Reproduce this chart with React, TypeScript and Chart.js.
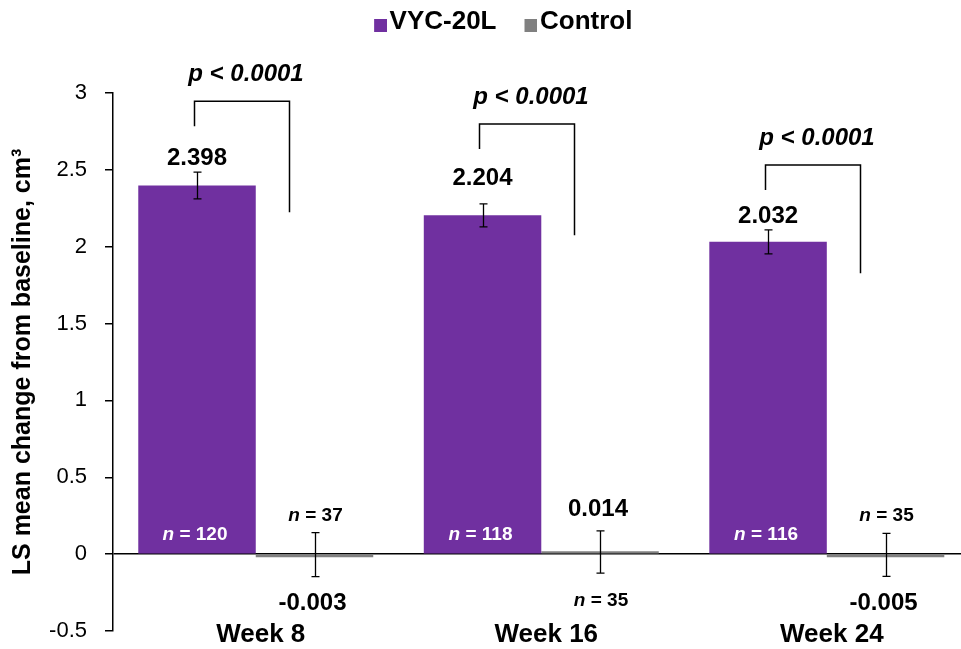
import React, { useEffect, useRef } from 'react';
import { Chart, registerables } from 'chart.js';

Chart.register(...registerables);

// ---- data ----
const categories = ['Week 8', 'Week 16', 'Week 24'];
const seriesNames = ['VYC-20L', 'Control'];
const vycValues = [2.398, 2.204, 2.032];
const vycErrors = [0.087, 0.075, 0.078];
const controlValues = [-0.003, 0.014, -0.005];
const controlErrors = [0.143, 0.137, 0.14];
const vycN = [120, 118, 116];
const controlN = [37, 35, 35];
const pValueLabels = ['p < 0.0001', 'p < 0.0001', 'p < 0.0001'];
const yAxisTitle = 'LS mean change from baseline, cm\u00B3';

// ---- annotation placement (data units) ----
const bracketTop = [2.947, 2.798, 2.531];
const bracketRightEnd = [2.225, 2.075, 1.828];
const vycLabelCenter = [2.573, 2.443, 2.196];
const controlValueAbove = [false, true, false];

const FONT = '"Liberation Sans", Arial, Helvetica, sans-serif';
const PURPLE = '#7030A0';
const GRAY = '#808080';

Chart.defaults.font.family = FONT;

function drawNLabel(ctx: CanvasRenderingContext2D, n: number, cx: number, cy: number, color: string) {
  const italic = `italic bold 19px ${FONT}`;
  const bold = `bold 19px ${FONT}`;
  ctx.font = italic;
  const w1 = ctx.measureText('n').width;
  ctx.font = bold;
  const rest = ` = ${n}`;
  const w2 = ctx.measureText(rest).width;
  const start = cx - (w1 + w2) / 2;
  ctx.fillStyle = color;
  ctx.textBaseline = 'middle';
  ctx.textAlign = 'left';
  ctx.font = italic;
  ctx.fillText('n', start, cy);
  ctx.font = bold;
  ctx.fillText(rest, start + w1, cy);
}

const annotationPlugin = {
  id: 'annotations',
  afterDatasetsDraw(chart: any) {
    const { ctx } = chart;
    const ys = chart.scales.y;
    const xs = chart.scales.x;
    const z = ys.getPixelForValue(0);
    ctx.save();
    ctx.strokeStyle = '#000';
    ctx.lineWidth = 1.3;
    // error bars
    const sets = [
      { vals: vycValues, errs: vycErrors },
      { vals: controlValues, errs: controlErrors },
    ];
    sets.forEach((s, di) => {
      const meta = chart.getDatasetMeta(di);
      meta.data.forEach((bar: any, i: number) => {
        const bx = Math.round(bar.x) + 0.5;
        const t = ys.getPixelForValue(s.vals[i] + s.errs[i]);
        const b = ys.getPixelForValue(s.vals[i] - s.errs[i]);
        ctx.beginPath();
        ctx.moveTo(bx, t);
        ctx.lineTo(bx, b);
        ctx.moveTo(bx - 4, t);
        ctx.lineTo(bx + 4, t);
        ctx.moveTo(bx - 4, b);
        ctx.lineTo(bx + 4, b);
        ctx.stroke();
      });
    });

    const vycMeta = chart.getDatasetMeta(0);
    const ctlMeta = chart.getDatasetMeta(1);

    // value labels
    ctx.textAlign = 'center';
    ctx.textBaseline = 'middle';
    ctx.fillStyle = '#000';
    ctx.font = `bold 24px ${FONT}`;
    vycValues.forEach((v, i) => {
      const bar = vycMeta.data[i];
      ctx.fillText(v.toFixed(3), bar.x, ys.getPixelForValue(vycLabelCenter[i]));
    });
    controlValues.forEach((v, i) => {
      const bar = ctlMeta.data[i];
      const above = controlValueAbove[i];
      ctx.font = `bold 24px ${FONT}`;
      ctx.fillStyle = '#000';
      ctx.textAlign = 'center';
      ctx.fillText(v.toFixed(3), bar.x - 2, above ? z - 45 : z + 49.5);
      drawNLabel(ctx, controlN[i], bar.x + 1, above ? z + 46.5 : z - 38, '#000');
    });
    vycN.forEach((n, i) => {
      const bar = vycMeta.data[i];
      drawNLabel(ctx, n, bar.x - 2, z - 19, '#fff');
    });

    // significance brackets
    ctx.strokeStyle = '#000';
    ctx.lineWidth = 1.5;
    categories.forEach((_, i) => {
      const c = xs.getPixelForValue(i);
      const left = Math.round(c - 62) + 0.5;
      const right = Math.round(c + 33) + 0.5;
      const top = ys.getPixelForValue(bracketTop[i]);
      const rEnd = ys.getPixelForValue(bracketRightEnd[i]);
      ctx.beginPath();
      ctx.moveTo(left, top + 25);
      ctx.lineTo(left, top);
      ctx.lineTo(right, top);
      ctx.lineTo(right, rEnd);
      ctx.stroke();
      ctx.font = `italic bold 24px ${FONT}`;
      ctx.fillStyle = '#000';
      ctx.textAlign = 'center';
      ctx.textBaseline = 'middle';
      ctx.fillText(pValueLabels[i], (left + right) / 2 + 4, top - 27);
    });
    ctx.restore();
  },
};

const legendShiftPlugin = {
  id: 'legendShift',
  afterLayout(chart: any) {
    const l = chart.legend;
    if (l) {
      l.left += 12;
      l.right += 12;
    }
  },
};

function makeSwatch(color: string) {
  const c = document.createElement('canvas');
  c.width = 45;
  c.height = 26;
  const g = c.getContext('2d')!;
  g.fillStyle = color;
  g.fillRect(32, 10, 13, 13);
  return c;
}

export default function App() {
  const ref = useRef<HTMLCanvasElement>(null);

  useEffect(() => {
    document.body.style.margin = '0';
    const swatches = [makeSwatch(PURPLE), makeSwatch(GRAY)];
    const chart = new Chart(ref.current!, {
      type: 'bar',
      data: {
        datasets: [
          {
            label: seriesNames[0],
            data: vycValues.map((v, i) => ({ x: i, y: v })),
            backgroundColor: PURPLE,
            borderWidth: 0,
          },
          {
            label: seriesNames[1],
            data: controlValues.map((v, i) => ({ x: i, y: v })),
            backgroundColor: GRAY,
            borderWidth: 0,
            minBarLength: 3,
          },
        ],
      },
      options: {
        animation: false,
        responsive: true,
        maintainAspectRatio: false,
        categoryPercentage: 0.823,
        barPercentage: 1,
        layout: { padding: { top: 2.5, left: 0, right: 0, bottom: 0 } },
        plugins: {
          tooltip: { enabled: false },
          title: { display: false },
          subtitle: {
            display: true,
            text: '',
            position: 'top',
            weight: 500,
            font: { size: 10, lineHeight: 1 },
            padding: { top: 0, bottom: 38 },
          },
          legend: {
            display: true,
            position: 'top',
            align: 'center',
            labels: {
              usePointStyle: true,
              pointStyleWidth: 24,
              padding: 6.5,
              color: '#000',
              font: { size: 26, weight: 'bold', family: FONT },
              generateLabels: (ch: any) => {
                const items = (Chart.defaults.plugins.legend.labels as any).generateLabels(ch);
                items.forEach((it: any, i: number) => {
                  it.pointStyle = swatches[i];
                });
                return items;
              },
            },
          },
        } as any,
        scales: {
          x: {
            type: 'linear',
            min: -0.5,
            max: 2.47,
            offset: false,
            grid: { display: false },
            border: { display: false },
            afterBuildTicks: (s: any) => {
              s.ticks = categories.map((_, i) => ({ value: i }));
            },
            afterFit: (s: any) => {
              s.height = 18;
              s.paddingLeft = 0;
              s.paddingRight = 0;
            },
            ticks: {
              autoSkip: false,
              maxRotation: 0,
              minRotation: 0,
              mirror: true,
              padding: -17,
              labelOffset: 5,
              color: '#000',
              font: { size: 26, weight: 'bold', lineHeight: 1, family: FONT },
              callback: (_v: any, index: number) => categories[index],
            },
          },
          y: {
            type: 'linear',
            min: -0.5,
            max: 3,
            afterFit: (s: any) => {
              s.width = 113;
              s.paddingTop = 0;
              s.paddingBottom = 0;
            },
            ticks: {
              stepSize: 0.5,
              padding: 18,
              color: '#000',
              font: { size: 22, family: FONT },
              callback: (v: any) => String(v),
            },
            grid: {
              color: (c: any) => (c.tick && c.tick.value === 0 ? '#000' : 'rgba(0,0,0,0)'),
              tickColor: '#000',
              tickLength: 8,
              lineWidth: 1.5,
            },
            border: { display: true, color: '#000', width: 1.5 },
            title: {
              display: true,
              text: yAxisTitle,
              color: '#000',
              font: { size: 25, weight: 'bold', family: FONT },
              padding: { top: 8, bottom: 0 },
            },
          },
        } as any,
      },
      plugins: [annotationPlugin, legendShiftPlugin],
    } as any);
    return () => chart.destroy();
  }, []);

  return (
    <div style={{ width: 961, height: 649, position: 'relative' }}>
      <canvas ref={ref} />
    </div>
  );
}
